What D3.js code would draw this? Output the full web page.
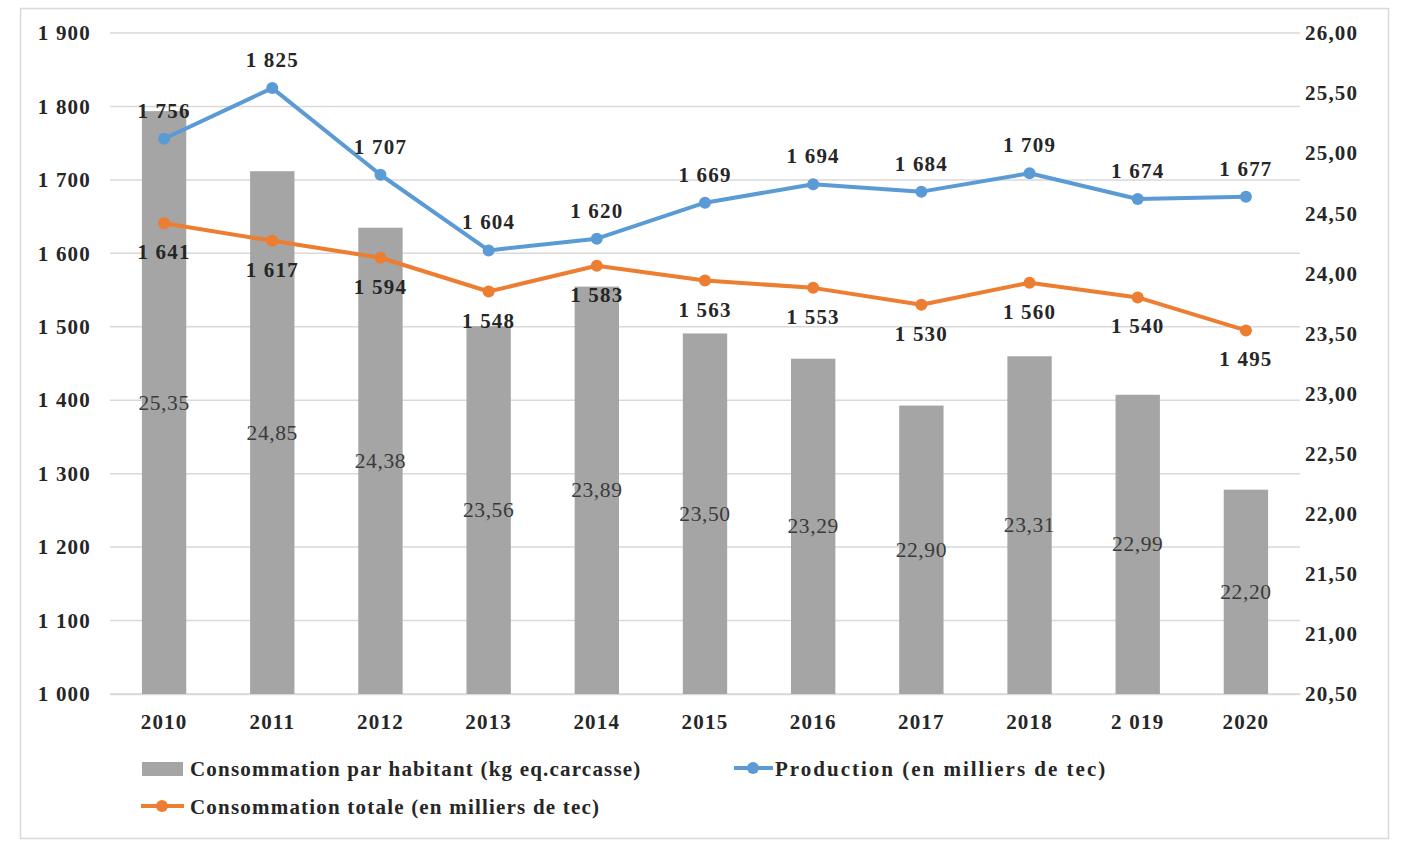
<!DOCTYPE html>
<html><head><meta charset="utf-8">
<script src="https://cdn.jsdelivr.net/npm/d3@7"></script>
<style>body{margin:0;background:#fff;} svg{display:block;} text{font-family:"Liberation Serif","Times New Roman",serif;}</style>
</head><body>
<svg id="c" width="1411" height="857"></svg>
<script>
const years = ["2010","2011","2012","2013","2014","2015","2016","2017","2018","2 019","2020"];
const consoParHab = [25.35,24.85,24.38,23.56,23.89,23.50,23.29,22.90,23.31,22.99,22.20];
const production = [1756,1825,1707,1604,1620,1669,1694,1684,1709,1674,1677];
const consoTotale = [1641,1617,1594,1548,1583,1563,1553,1530,1560,1540,1495];
const leftTicks = [1000,1100,1200,1300,1400,1500,1600,1700,1800,1900];
const rightTicks = [20.5,21,21.5,22,22.5,23,23.5,24,24.5,25,25.5,26];
const legendLabels = ["Consommation par habitant (kg eq.carcasse)","Production (en milliers de tec)","Consommation totale (en milliers de tec)"];

const svg = d3.select("#c");
const x0=110,x1=1300,yTop=33,yBot=694;
const BAR="#A5A5A5",BLUE="#5B9BD5",ORANGE="#ED7D31",GRID="#D9D9D9",TXT="#262626";
const LS="1.2px";

svg.append("rect").attr("x",20.5).attr("y",8.5).attr("width",1368).attr("height",830)
  .attr("fill","#fff").attr("stroke","#D9D9D9").attr("stroke-width",1.5);

const x = d3.scaleBand().domain(years).range([x0,x1]).paddingInner(0.59).paddingOuter(0.295);
const yL = d3.scaleLinear().domain([1000,1900]).range([yBot,yTop]);
const yR = d3.scaleLinear().domain([20.5,26]).range([yBot,yTop]);
const cx = d => x(d)+x.bandwidth()/2;
const fmtInt = v => d3.format(",")(v).replace(/,/g," ");
const fmtDec = v => d3.format(".2f")(v).replace(".",",");

function styleBold(sel){
  sel.attr("font-size",21).attr("font-weight","bold").attr("fill",TXT)
    .attr("font-family","Liberation Serif").attr("letter-spacing",LS);
}

// gridlines
svg.append("g").selectAll("line").data(leftTicks).join("line")
  .attr("x1",x0).attr("x2",x1).attr("y1",d=>yL(d)).attr("y2",d=>yL(d))
  .attr("stroke",GRID).attr("stroke-width",1.5);

// left axis
const gL = svg.append("g").attr("transform",`translate(${x0},0)`)
  .call(d3.axisLeft(yL).tickValues(leftTicks).tickFormat(fmtInt).tickSize(0).tickPadding(19));
gL.select(".domain").remove();
styleBold(gL.selectAll("text"));

// right axis
const gR = svg.append("g").attr("transform",`translate(${x1},0)`)
  .call(d3.axisRight(yR).tickValues(rightTicks).tickFormat(fmtDec).tickSize(0).tickPadding(5));
gR.select(".domain").remove();
styleBold(gR.selectAll("text"));

// bottom axis
const gB = svg.append("g").attr("transform",`translate(0,${yBot})`)
  .call(d3.axisBottom(x).tickSize(0).tickPadding(20));
gB.select(".domain").attr("stroke",GRID).attr("stroke-width",1.5);
styleBold(gB.selectAll("text"));

// bars
svg.append("g").selectAll("rect").data(years).join("rect")
  .attr("x",d=>x(d)).attr("width",x.bandwidth())
  .attr("y",(d,i)=>yR(consoParHab[i])).attr("height",(d,i)=>yBot-yR(consoParHab[i]))
  .attr("fill",BAR);
svg.append("g").selectAll("text").data(years).join("text")
  .attr("x",d=>cx(d)).attr("y",(d,i)=>(yR(consoParHab[i])+yBot)/2+7)
  .attr("text-anchor","middle").attr("font-size",21.5).attr("fill","#3A3A3A").attr("letter-spacing","0.6px")
  .text((d,i)=>fmtDec(consoParHab[i]));

// lines
function drawLine(vals,color,above){
  const line = d3.line().x((d,i)=>cx(years[i])).y(d=>yL(d));
  svg.append("path").datum(vals).attr("d",line).attr("fill","none")
    .attr("stroke",color).attr("stroke-width",4).attr("stroke-linejoin","round");
  svg.append("g").selectAll("circle").data(vals).join("circle")
    .attr("cx",(d,i)=>cx(years[i])).attr("cy",d=>yL(d)).attr("r",6).attr("fill",color);
  const t = svg.append("g").selectAll("text").data(vals).join("text")
    .attr("x",(d,i)=>cx(years[i])).attr("y",d=>above? yL(d)-21 : yL(d)+36)
    .attr("text-anchor","middle").text(d=>fmtInt(d));
  styleBold(t);
}
drawLine(consoTotale,ORANGE,false);
drawLine(production,BLUE,true);

// legend
const lg = svg.append("g");
lg.append("rect").attr("x",142).attr("y",762).attr("width",41).attr("height",14).attr("fill",BAR);
styleBold(lg.append("text").attr("x",190).attr("y",776).text(legendLabels[0]));
lg.append("line").attr("x1",734).attr("x2",773).attr("y1",768).attr("y2",768).attr("stroke",BLUE).attr("stroke-width",4);
lg.append("circle").attr("cx",753).attr("cy",768).attr("r",6).attr("fill",BLUE);
styleBold(lg.append("text").attr("x",775).attr("y",776).text(legendLabels[1]));
lg.select("text:last-of-type").attr("letter-spacing","2px");
lg.append("line").attr("x1",141).attr("x2",184).attr("y1",806).attr("y2",806).attr("stroke",ORANGE).attr("stroke-width",4);
lg.append("circle").attr("cx",162).attr("cy",806).attr("r",6).attr("fill",ORANGE);
styleBold(lg.append("text").attr("x",190).attr("y",814).text(legendLabels[2]));
</script>
</body></html>
